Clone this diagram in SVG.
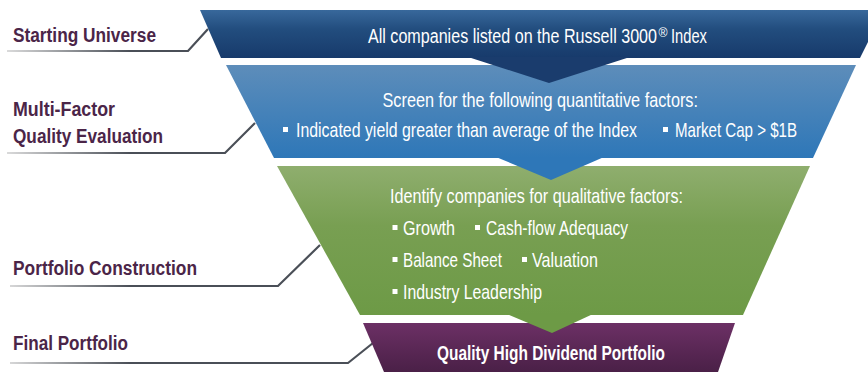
<svg xmlns="http://www.w3.org/2000/svg" width="868" height="372" viewBox="0 0 868 372">
<defs>
<linearGradient id="gDark" x1="0" y1="0" x2="0" y2="1">
<stop offset="0" stop-color="#38689b"/><stop offset="0.4" stop-color="#224d7e"/><stop offset="1" stop-color="#173a6b"/>
</linearGradient>
<linearGradient id="gMed" x1="0" y1="0" x2="0" y2="1">
<stop offset="0" stop-color="#5d8dba"/><stop offset="1" stop-color="#2e77b8"/>
</linearGradient>
<linearGradient id="gGreen" x1="0" y1="0" x2="0" y2="1">
<stop offset="0" stop-color="#8fae6e"/><stop offset="0.4" stop-color="#789f52"/><stop offset="1" stop-color="#6d9a46"/>
</linearGradient>
<linearGradient id="gPurple" x1="0" y1="0" x2="0" y2="1">
<stop offset="0" stop-color="#6c3065"/><stop offset="1" stop-color="#4a2047"/>
</linearGradient>
<linearGradient id="gLine" gradientUnits="userSpaceOnUse" x1="0" y1="0" x2="130" y2="0">
<stop offset="0" stop-color="#e2e2e2"/><stop offset="1" stop-color="#4a4f57"/>
</linearGradient>
</defs>
<style>
.lbl{font-family:"Liberation Sans",Arial,sans-serif;font-weight:bold;font-size:20px;fill:#4b2548}
.wt{font-family:"Liberation Sans",Arial,sans-serif;font-size:21px;fill:#ffffff}
.wb{font-family:"Liberation Sans",Arial,sans-serif;font-size:21px;font-weight:bold;fill:#ffffff}
.sup{font-family:"Liberation Sans",Arial,sans-serif;font-size:12px;fill:#ffffff}
.conn{fill:none;stroke:url(#gLine);stroke-width:2.2}
.bul{fill:#ffffff}
</style>

<g id="connectors">
<path class="conn" d="M7,51 H188 L208,29"/>
<path class="conn" d="M7,153 H225 L255,123"/>
<path class="conn" d="M10,286 H278 L320,245"/>
<path class="conn" d="M10,363 H348 L373,343"/>
</g>

<g id="label-starting-universe">
<text class="lbl" x="13" y="42" textLength="143" lengthAdjust="spacingAndGlyphs">Starting Universe</text>
</g>
<g id="label-multi-factor">
<text class="lbl" x="13" y="116" textLength="102" lengthAdjust="spacingAndGlyphs">Multi-Factor</text>
<text class="lbl" x="13" y="143" textLength="150" lengthAdjust="spacingAndGlyphs">Quality Evaluation</text>
</g>
<g id="label-portfolio-construction">
<text class="lbl" x="13" y="275" textLength="184" lengthAdjust="spacingAndGlyphs">Portfolio Construction</text>
</g>
<g id="label-final-portfolio">
<text class="lbl" x="13" y="350" textLength="115" lengthAdjust="spacingAndGlyphs">Final Portfolio</text>
</g>

<g id="stage-universe">
<polygon points="200,10 868,10 868,42 860,58 221,58" fill="url(#gDark)"/>
<text class="wt" transform="translate(368,43) scale(0.767,1)" textLength="376.8" lengthAdjust="spacingAndGlyphs">All companies listed on the Russell 3000</text>
<text class="sup" x="658.5" y="37" textLength="9" lengthAdjust="spacingAndGlyphs">®</text>
<text class="wt" transform="translate(671,43) scale(0.7,1)" textLength="51.4" lengthAdjust="spacingAndGlyphs">Index</text>
</g>

<g id="stage-quantitative">
<polygon points="226,65 856,65 813,158 274,158" fill="url(#gMed)"/>
<polygon points="468,57 630,57 549,83" fill="#1a3c6d"/>
<text class="wt" x="382.5" y="107" textLength="315.5" lengthAdjust="spacingAndGlyphs">Screen for the following quantitative factors:</text>
<rect class="bul" x="283" y="127" width="5" height="5"/>
<text class="wt" transform="translate(296,137) scale(0.757,1)" textLength="450.5" lengthAdjust="spacingAndGlyphs">Indicated yield greater than average of the Index</text>
<rect class="bul" x="663" y="127" width="5" height="5"/>
<text class="wt" x="675" y="137" textLength="122" lengthAdjust="spacingAndGlyphs">Market Cap &gt; $1B</text>
</g>

<g id="stage-qualitative">
<polygon points="277,166 810,166 743,315 360,315" fill="url(#gGreen)"/>
<polygon points="496,157 604,157 551,180" fill="#2e77b8"/>
<text class="wt" x="390" y="203" textLength="293" lengthAdjust="spacingAndGlyphs">Identify companies for qualitative factors:</text>
<rect class="bul" x="392.5" y="225" width="5" height="5"/>
<text class="wt" x="403" y="235" textLength="52" lengthAdjust="spacingAndGlyphs">Growth</text>
<rect class="bul" x="475" y="225" width="5" height="5"/>
<text class="wt" x="486" y="235" textLength="142" lengthAdjust="spacingAndGlyphs">Cash-flow Adequacy</text>
<rect class="bul" x="392.5" y="257" width="5" height="5"/>
<text class="wt" x="403" y="267" textLength="99" lengthAdjust="spacingAndGlyphs">Balance Sheet</text>
<rect class="bul" x="522" y="257" width="5" height="5"/>
<text class="wt" x="532" y="267" textLength="66" lengthAdjust="spacingAndGlyphs">Valuation</text>
<rect class="bul" x="392.5" y="289" width="5" height="5"/>
<text class="wt" x="403" y="299" textLength="139" lengthAdjust="spacingAndGlyphs">Industry Leadership</text>
</g>

<g id="stage-final">
<polygon points="363,323 735,323 718,372 384,372" fill="url(#gPurple)"/>
<polygon points="507,314 593,314 552,333" fill="#6d9a46"/>
<text class="wb" x="437" y="360" textLength="228" lengthAdjust="spacingAndGlyphs">Quality High Dividend Portfolio</text>
</g>
</svg>
